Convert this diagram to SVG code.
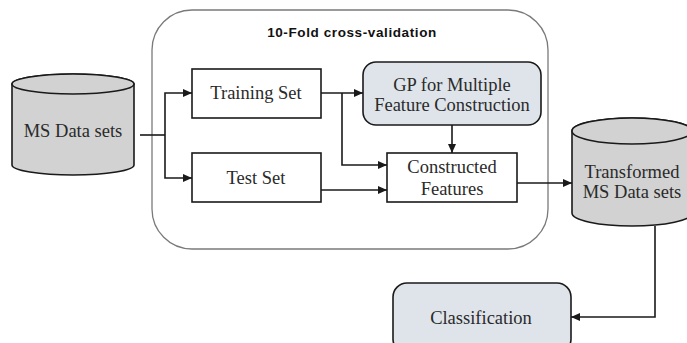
<svg xmlns="http://www.w3.org/2000/svg" width="687" height="343" viewBox="0 0 687 343">
<defs>
<marker id="arr" markerWidth="9" markerHeight="8" refX="9" refY="4" orient="auto" markerUnits="userSpaceOnUse">
<path d="M0,0 L9,4 L0,8 Z" fill="#1a1a1a"/>
</marker>
<style>
.box{fill:#ffffff;stroke:#1a1a1a;stroke-width:1.6}
.rbox{fill:#dfe4ea;stroke:#1a1a1a;stroke-width:1.6}
.cyl{fill:#d2d2d2;stroke:#1a1a1a;stroke-width:1.6}
.frame{fill:none;stroke:#7a7a7a;stroke-width:1.3}
.lbl{font-family:"Liberation Serif",serif;font-size:18.5px;fill:#2a2a2a;text-anchor:middle}
.title{font-family:"Liberation Sans",Arial,sans-serif;font-size:13.5px;font-weight:bold;letter-spacing:0.6px;fill:#111;text-anchor:middle}
.con{fill:none;stroke:#1a1a1a;stroke-width:1.6}
</style>
</defs>
<rect width="687" height="343" fill="#ffffff"/>

<g id="cv-frame">
<rect class="frame" x="152" y="10" width="396" height="239" rx="40" ry="40"/>
<text class="title" x="352" y="37">10-Fold cross-validation</text>
</g>

<g id="ms-data">
<path class="cyl" d="M12,84 L12,165 A61,10 0 0 0 134,165 L134,84 A61,10 0 0 0 12,84 Z"/>
<ellipse class="cyl" cx="73" cy="84" rx="61" ry="10"/>
<text class="lbl" x="73" y="137">MS Data sets</text>
</g>

<g id="training">
<rect class="box" x="192" y="69" width="129" height="49"/>
<text class="lbl" x="256" y="99">Training Set</text>
</g>

<g id="test">
<rect class="box" x="192" y="153" width="129" height="49"/>
<text class="lbl" x="256" y="184">Test Set</text>
</g>

<g id="gp">
<rect class="rbox" x="363" y="62" width="178" height="63" rx="13" ry="13"/>
<text class="lbl" x="452" y="91">GP for Multiple</text>
<text class="lbl" x="452" y="111">Feature Construction</text>
</g>

<g id="constructed">
<rect class="box" x="387" y="153" width="130" height="49"/>
<text class="lbl" x="452" y="173">Constructed</text>
<text class="lbl" x="452" y="195">Features</text>
</g>

<g id="transformed">
<path class="cyl" d="M572,131 L572,213 A60,13 0 0 0 692,213 L692,131 A60,13 0 0 0 572,131 Z"/>
<ellipse class="cyl" cx="632" cy="131" rx="60" ry="13"/>
<text class="lbl" x="632" y="178">Transformed</text>
<text class="lbl" x="632" y="198">MS Data sets</text>
</g>

<g id="classification">
<rect class="rbox" x="393" y="283" width="178" height="70" rx="14" ry="14"/>
<text class="lbl" x="481" y="324">Classification</text>
</g>

<g id="connectors">
<path class="con" d="M140,135 L165,135"/>
<path class="con" d="M165,135 L165,93 L192,93" marker-end="url(#arr)"/>
<path class="con" d="M165,135 L165,178 L192,178" marker-end="url(#arr)"/>
<path class="con" d="M321,93 L363,93" marker-end="url(#arr)"/>
<path class="con" d="M342,93 L342,165 L387,165" marker-end="url(#arr)"/>
<path class="con" d="M321,190 L387,190" marker-end="url(#arr)"/>
<path class="con" d="M452,125 L452,153" marker-end="url(#arr)"/>
<path class="con" d="M517,183 L572,183" marker-end="url(#arr)"/>
<path class="con" d="M655,226 L655,317 L571,317" marker-end="url(#arr)"/>
</g>
</svg>
